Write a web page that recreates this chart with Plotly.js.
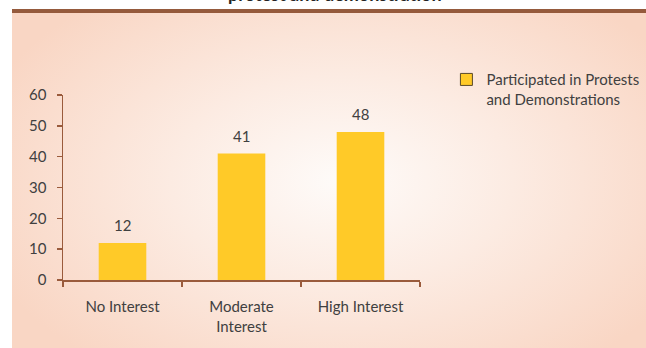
<!DOCTYPE html>
<html>
<head>
<meta charset="utf-8">
<script src="https://cdn.plot.ly/plotly-3.0.1.min.js"></script>
<style>
  html, body { margin: 0; padding: 0; background: #ffffff; width: 646px; height: 348px; overflow: hidden; }
  #panel { position: absolute; left: 12px; top: 9px; width: 634px; height: 335px;
           border-top: 4px solid #955a3c;
           background: radial-gradient(ellipse 60% 70% at 52% 50%, #fefbf9 0%, #fcebe2 45%, #f9d6c4 100%); }
  #chart { position: absolute; left: 0; top: 0; width: 646px; height: 348px; }
</style>
</head>
<body>
<div id="panel"></div>
<div id="chart"></div>
<script>
const categories = ["No Interest", "Moderate<br>Interest", "High Interest"];
const values = [12, 41, 48];
const seriesName = "Participated in Protests<br>and Demonstrations";
const titleText = "protest and demonstration";
const yTicks = [0, 10, 20, 30, 40, 50, 60];

const textColor = "#404040";
const axisColor = "#9a5b3c";
const barColor = "#ffca28";
const font = "Lato, 'Open Sans', sans-serif";

const traces = [
  { type: "bar", x: [null], y: [null], name: seriesName, showlegend: true,
    marker: { color: barColor, line: { color: "#5a4a2a", width: 1 } }, hoverinfo: "skip" },
  { type: "bar", x: categories, y: values, name: seriesName, showlegend: false,
    marker: { color: barColor, line: { width: 0 } } }
];

const annotations = categories.map((c, i) => ({
  x: c, y: values[i], xref: "x", yref: "y", text: String(values[i]),
  showarrow: false, yanchor: "bottom", yshift: 7,
  font: { family: font, size: 15, color: textColor }
}));
annotations.push({
  text: "<b>" + titleText + "</b>", xref: "paper", yref: "paper", x: 0.762, y: 1,
  xanchor: "center", yanchor: "middle", yshift: 101, showarrow: false,
  font: { family: font, size: 18, color: "#222222" }
});

const layout = {
  width: 646, height: 348,
  paper_bgcolor: "rgba(0,0,0,0)", plot_bgcolor: "rgba(0,0,0,0)",
  margin: { l: 63, r: 226, t: 95, b: 68, autoexpand: false },
  barmode: "overlay", bargap: 0.6,
  font: { family: font, size: 15, color: textColor },
  xaxis: { type: "category", range: [-0.5, 2.5], showline: true, linecolor: axisColor, linewidth: 2,
           ticks: "outside", tickson: "boundaries", ticklen: 5, tickcolor: axisColor, tickwidth: 1.5,
           showgrid: false, zeroline: false, ticklabelstandoff: 12,
           tickfont: { family: font, size: 15, color: textColor } },
  yaxis: { range: [0, 60], tickvals: yTicks, showline: true, linecolor: axisColor, linewidth: 1.5,
           ticks: "outside", ticklen: 5, tickcolor: axisColor, tickwidth: 1.5,
           showgrid: false, zeroline: false, ticklabelstandoff: 7,
           tickfont: { family: font, size: 15, color: textColor } },
  legend: { x: 1.074, y: 1.172, xanchor: "left", yanchor: "top", bgcolor: "rgba(0,0,0,0)",
            valign: "top", font: { family: font, size: 15, color: textColor }, itemclick: false },
  annotations: annotations,
  showlegend: true
};

Plotly.newPlot("chart", traces, layout, { displayModeBar: false, staticPlot: true });
</script>
</body>
</html>
